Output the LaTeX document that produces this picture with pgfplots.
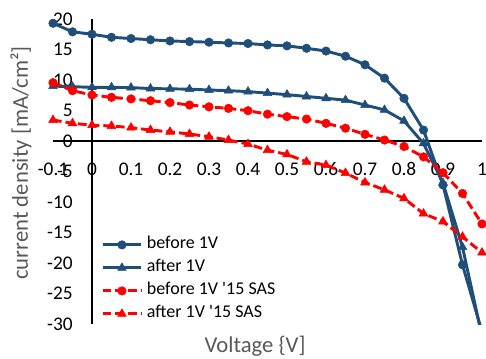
\documentclass[border=0pt]{standalone}
\usepackage{fontspec}
\setmainfont{Carlito}
\usepackage{pgfplots}
\pgfplotsset{compat=1.18}
\definecolor{dblue}{HTML}{1F4E79}
\definecolor{lgray}{HTML}{595959}
\begin{document}
\begin{tikzpicture}
\path[use as bounding box] (0,0) rectangle (364.5pt,268.5pt);
\begin{axis}[
 at={(39.75pt,25.5pt)}, anchor=south west,
 scale only axis, width=321.75pt, height=228.75pt,
 xmin=-0.1, xmax=1, ymin=-30, ymax=20,
 axis lines=middle,
 axis line style={line width=2.2pt, black, -},
 clip mode=individual,
 hide obscured x ticks=false, hide obscured y ticks=false,
 major tick length=0pt,
 xtick={-0.1,0,0.1,0.2,0.3,0.4,0.5,0.6,0.7,0.8,0.9,1},
 xticklabels={-0.1,0,0.1,0.2,0.3,0.4,0.5,0.6,0.7,0.8,0.9,1},
 ytick={-30,-25,-20,-15,-10,-5,0,5,10,15,20},
 yticklabels={-30,-25,-20,-15,-10,-5,0,5,10,15,20},
 tick label style={font=\fontsize{14.5}{17}\selectfont, text=black},
 xticklabel style={anchor=center, yshift=-21pt, inner sep=0pt},
 yticklabel style={anchor=east, inner sep=0pt, xshift=-14.25pt},
 xlabel={Voltage \{V]},
 ylabel={current density [mA/cm²]},
 label style={font=\fontsize{17}{20}\selectfont, text=lgray},
 xlabel style={at={(axis description cs:0.471,-0.095)}, anchor=base},
 ylabel style={at={(axis description cs:-0.0746,0.528)}, anchor=center, rotate=90},
 legend style={draw=none, fill=none, at={(axis description cs:0.112,0.297)}, anchor=north west,
   inner sep=0pt, outer sep=0pt, row sep=0pt, column sep=3pt,
   font=\fontsize{13.5}{16}\selectfont,
   nodes={inner sep=0pt, text height=11pt, text depth=6.25pt}},
 legend cell align=left,
 legend image code/.code={\draw[mark repeat=2,mark phase=2] plot coordinates {(0pt,0pt) (14.6pt,0pt) (29.2pt,0pt)};},
]
\addplot[dblue, line width=2.2pt, line join=round, mark=*, mark size=3.2pt, mark options={solid, line width=0.4pt}] coordinates {
(-0.1,19.3) (-0.05,17.9) (0,17.5) (0.05,17.0) (0.1,16.8) (0.15,16.6) (0.2,16.4) (0.25,16.3) (0.3,16.2) (0.35,16.07) (0.4,15.98) (0.45,15.75) (0.5,15.6) (0.55,15.2) (0.6,14.75) (0.65,13.9) (0.7,12.5) (0.75,10.3) (0.8,7.0) (0.85,1.8) (0.9,-7.2) (0.95,-20.3)};
\addlegendentry{before 1V}
\addplot[dblue, line width=2.2pt, line join=round, mark=triangle*, mark size=3.8pt, mark options={solid, line width=0.4pt}] coordinates {
(-0.1,9.0) (-0.05,8.9) (0,8.8) (0.05,8.8) (0.1,8.75) (0.15,8.6) (0.2,8.55) (0.25,8.5) (0.3,8.36) (0.35,8.25) (0.4,8.1) (0.45,7.85) (0.5,7.6) (0.55,7.3) (0.6,7.0) (0.65,6.7) (0.7,5.9) (0.75,5.1) (0.8,3.3) (0.85,-0.4) (0.9,-6.9) (0.95,-17.4)};
\addlegendentry{after 1V}
\addplot[red, line width=2.2pt, line join=round, dash pattern=on 6.5pt off 3pt, mark=*, mark size=3.2pt, mark options={solid, line width=0.4pt}] coordinates {
(-0.1,9.56) (-0.05,8.25) (0,7.54) (0.05,7.16) (0.1,6.9) (0.15,6.6) (0.2,6.3) (0.25,5.9) (0.3,5.6) (0.35,5.35) (0.4,4.97) (0.45,4.4) (0.5,4.0) (0.55,3.6) (0.6,2.9) (0.65,2.1) (0.7,1.1) (0.75,0.16) (0.8,-0.9) (0.85,-2.6) (0.9,-5.2) (0.95,-8.6) (1,-13.6)};
\addlegendentry{before 1V \textquotesingle15 SAS}
\addplot[red, line width=2.2pt, line join=round, dash pattern=on 6.5pt off 3pt, mark=triangle*, mark size=3.8pt, mark options={solid, line width=0.4pt}] coordinates {
(-0.1,3.44) (-0.05,2.9) (0,2.6) (0.05,2.46) (0.1,2.2) (0.15,1.8) (0.2,1.5) (0.25,1.15) (0.3,0.7) (0.35,0.16) (0.4,-0.5) (0.45,-1.5) (0.5,-2.2) (0.55,-3.4) (0.6,-3.95) (0.65,-5.25) (0.7,-6.8) (0.75,-8.0) (0.8,-9.4) (0.85,-11.9) (0.9,-13.2) (0.95,-15.7) (1,-18.3)};
\addlegendentry{after 1V \textquotesingle15 SAS}
\addplot[dblue, line width=2.2pt, forget plot, no marks] coordinates {(0.95,-20.3) (1,-31.3)};
\addplot[dblue, line width=2.2pt, forget plot, no marks] coordinates {(0.95,-17.4) (1,-32)};
\end{axis}
\end{tikzpicture}
\end{document}
